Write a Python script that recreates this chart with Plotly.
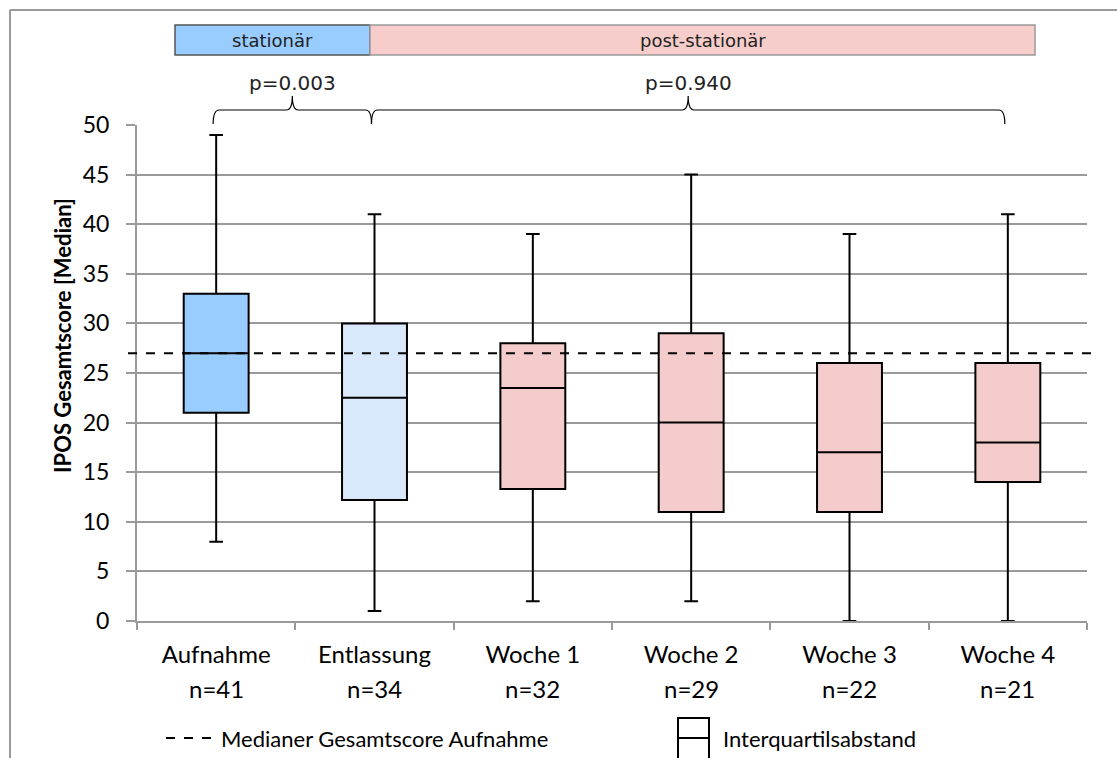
import plotly.graph_objects as go

# ---------------- data ----------------
categories = ["Aufnahme", "Entlassung", "Woche 1", "Woche 2", "Woche 3", "Woche 4"]
n_values = [41, 34, 32, 29, 22, 21]
minimum = [8, 1, 2, 2, 0, 0]
q1 = [21, 12.2, 13.3, 11, 11, 14]
median = [27, 22.5, 23.5, 20, 17, 18]
q3 = [33, 30, 28, 29, 26, 26]
maximum = [49, 41, 39, 45, 39, 41]
fill_colors = ["#99CCFF", "#DAE8FC", "#F4CCCC", "#F4CCCC", "#F4CCCC", "#F4CCCC"]
reference_median = 27
y_ticks = list(range(0, 55, 5))
phase_labels = ["stationär", "post-stationär"]
p_labels = ["p=0.003", "p=0.940"]
brace_spans = [(0, 1), (1, 5)]

# ---------------- geometry helpers (pixel layout) ----------------
W, H = 1117, 758
L, R, T, B = 137, 30, 125, 137
PW, PH = W - L - R, H - T - B


def px_x(p):
    return (p - L) / PW


def px_y(p):
    return (H - B - p) / PH


def data_x(v):
    return (v + 0.5) / len(categories)


GRAY = "#9A9A9A"
TXT_FONT = "Lato, Carlito, sans-serif"
DV_FONT = "DejaVu Sans, sans-serif"

fig = go.Figure()
for i, c in enumerate(categories):
    fig.add_trace(go.Box(
        x=[i], q1=[q1[i]], median=[median[i]], q3=[q3[i]],
        lowerfence=[minimum[i]], upperfence=[maximum[i]],
        fillcolor=fill_colors[i], line=dict(color="black", width=2),
        whiskerwidth=0.21, width=0.41, boxpoints=False, name=c,
        showlegend=False, hoverinfo="skip",
    ))

shapes = []
# dashed reference line
shapes.append(dict(type="line", xref="paper", yref="y",
                   x0=px_x(128), x1=px_x(1097), y0=reference_median, y1=reference_median,
                   line=dict(color="black", width=2, dash="dash")))
# outer frame (top and left)
shapes.append(dict(type="line", xref="paper", yref="paper", x0=px_x(10), x1=px_x(1117),
                   y0=px_y(10), y1=px_y(10), line=dict(color=GRAY, width=2)))
shapes.append(dict(type="line", xref="paper", yref="paper", x0=px_x(10), x1=px_x(10),
                   y0=px_y(10), y1=px_y(758), line=dict(color=GRAY, width=2)))
# phase header boxes
header_px = [(175, 370, "#99CCFF", "#555555"), (370, 1035, "#F7CDCB", "#9A9A9A")]
annotations = []
for (x0, x1, fc, lc), lab in zip(header_px, phase_labels):
    shapes.append(dict(type="rect", xref="paper", yref="paper", x0=px_x(x0), x1=px_x(x1),
                       y0=px_y(55), y1=px_y(25), fillcolor=fc, line=dict(color=lc, width=1.5)))
    annotations.append(dict(xref="paper", yref="paper", x=px_x((x0 + x1) / 2), y=px_y(40),
                            text=lab, showarrow=False, font=dict(family=DV_FONT, size=18, color="#222"),
                            xanchor="center", yanchor="middle"))
# braces
y0b, y1b, y2b = px_y(124), px_y(110), px_y(96)
rx = 6 / PW
for (a, b), lab in zip(brace_spans, p_labels):
    xa, xb = data_x(a) - 3 / PW, data_x(b) - 3 / PW
    m = (xa + xb) / 2
    path = (f"M {xa},{y0b} Q {xa},{y1b} {xa + rx},{y1b} L {m - rx},{y1b} "
            f"Q {m},{y1b} {m},{y2b} Q {m},{y1b} {m + rx},{y1b} L {xb - rx},{y1b} "
            f"Q {xb},{y1b} {xb},{y0b}")
    shapes.append(dict(type="path", xref="paper", yref="paper", path=path,
                       line=dict(color="black", width=1.2)))
    annotations.append(dict(xref="paper", yref="paper", x=m, y=px_y(83), text=lab,
                            showarrow=False, font=dict(family=DV_FONT, size=20, color="#222"),
                            xanchor="center", yanchor="middle"))
# n labels under categories
for i, n in enumerate(n_values):
    annotations.append(dict(xref="x", yref="paper", x=i, y=px_y(688), text=f"n={n}",
                            showarrow=False, font=dict(family=TXT_FONT, size=24, color="black"),
                            xanchor="center", yanchor="middle"))
# y axis title
annotations.append(dict(xref="paper", yref="paper", x=px_x(62), y=px_y(336),
                        text="<b>IPOS Gesamtscore [Median]</b>", textangle=-90, showarrow=False,
                        font=dict(family=TXT_FONT, size=22, color="black"),
                        xanchor="center", yanchor="middle"))
# legend: dashed line
shapes.append(dict(type="line", xref="paper", yref="paper", x0=px_x(166), x1=px_x(214),
                   y0=px_y(738), y1=px_y(738), line=dict(color="black", width=2, dash="dash")))
annotations.append(dict(xref="paper", yref="paper", x=px_x(219), y=px_y(738),
                        text="Medianer Gesamtscore Aufnahme", showarrow=False,
                        font=dict(family=TXT_FONT, size=22, color="black"),
                        xanchor="left", yanchor="middle"))
# legend: IQR box icon
shapes.append(dict(type="rect", xref="paper", yref="paper", x0=px_x(678), x1=px_x(709),
                   y0=px_y(762), y1=px_y(718), fillcolor="white", line=dict(color="black", width=2)))
shapes.append(dict(type="line", xref="paper", yref="paper", x0=px_x(678), x1=px_x(709),
                   y0=px_y(738), y1=px_y(738), line=dict(color="black", width=2)))
annotations.append(dict(xref="paper", yref="paper", x=px_x(721), y=px_y(738),
                        text="Interquartilsabstand", showarrow=False,
                        font=dict(family=TXT_FONT, size=22, color="black"),
                        xanchor="left", yanchor="middle"))

fig.update_layout(
    width=W, height=H, margin=dict(l=L, r=R, t=T, b=B),
    paper_bgcolor="white", plot_bgcolor="white",
    shapes=shapes, annotations=annotations, showlegend=False,
    font=dict(family=TXT_FONT, size=22, color="black"),
)
fig.update_xaxes(
    range=[-0.5, len(categories) - 0.5], tickmode="array",
    tickvals=list(range(len(categories))), ticktext=categories,
    ticks="", showgrid=False, zeroline=False,
    showline=True, linecolor=GRAY, linewidth=2,
    minor=dict(tickmode="array", tickvals=[i - 0.5 for i in range(len(categories) + 1)],
               ticks="outside", ticklen=7, tickcolor=GRAY, tickwidth=2, showgrid=False),
    tickfont=dict(family=TXT_FONT, size=24, color="black"),
    ticklabelstandoff=11,
)
fig.update_yaxes(
    range=[0, 50], tickmode="array", tickvals=y_ticks,
    showgrid=True, gridcolor=GRAY, gridwidth=1.5, zeroline=False,
    showline=True, linecolor=GRAY, linewidth=2,
    ticks="outside", ticklen=9, tickcolor=GRAY, tickwidth=2,
    tickfont=dict(family=TXT_FONT, size=23, color="black"),
    ticklabelstandoff=12,
)

fig.write_html("out.html")
